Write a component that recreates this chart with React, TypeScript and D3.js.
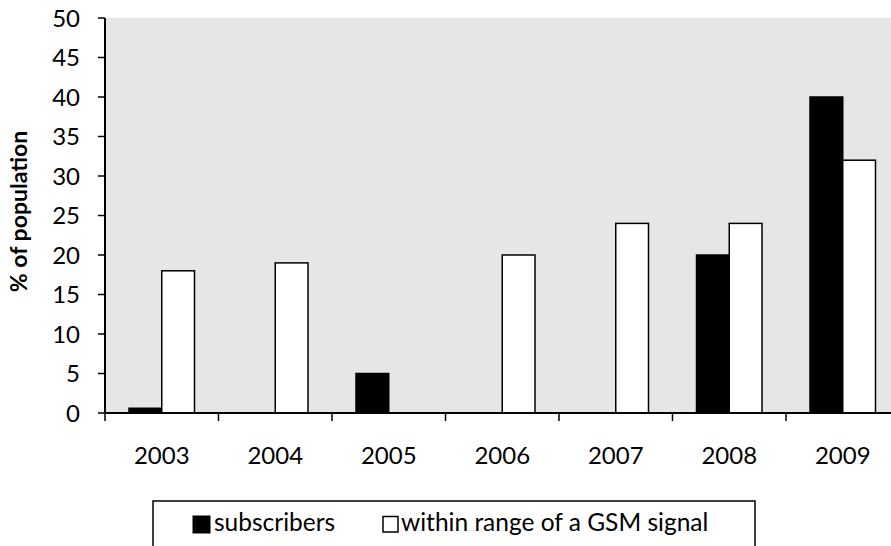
import React from "react";
import * as d3 from "d3";

const years = ["2003", "2004", "2005", "2006", "2007", "2008", "2009"];
const subscribers: (number | null)[] = [0.6, null, 5, null, null, 20, 40];
const gsmRange: (number | null)[] = [18, 19, null, 20, 24, 24, 32];
const yTicks = [0, 5, 10, 15, 20, 25, 30, 35, 40, 45, 50];
const seriesNames = ["subscribers", "within range of a GSM signal"];

const W = 891;
const H = 546;
const FONT = "Lato, 'Open Sans', sans-serif";

export default function App() {
  const left = 105;
  const top = 18;
  const bottom = 413;
  const bandW = 113.5;
  const x = d3.scaleBand<string>().domain(years).range([left, left + bandW * years.length]).padding(0);
  const y = d3.scaleLinear().domain([0, 50]).range([bottom, top]);
  const inner = d3.scaleBand<number>().domain([0, 1]).range([24, x.bandwidth() - 24]).padding(0);

  const series = [subscribers, gsmRange];
  const fills = ["#000000", "#ffffff"];

  return (
    <svg width={W} height={H} style={{ position: "fixed", left: 0, top: 0, display: "block" }} fontFamily={FONT}>
      <rect x={0} y={0} width={W} height={H} fill="#ffffff" />
      <rect x={left} y={top} width={x.range()[1] - left} height={bottom - top} fill="#e6e6e6" />
      {series.map((vals, si) =>
        vals.map((v, i) =>
          v == null ? null : (
            <rect
              key={`${si}-${i}`}
              x={(x(years[i]) as number) + (inner(si) as number)}
              y={y(v)}
              width={inner.bandwidth()}
              height={bottom - y(v)}
              fill={fills[si]}
              stroke="#000"
              strokeWidth={1.5}
            />
          )
        )
      )}
      {/* y axis */}
      <line x1={left} x2={left} y1={top} y2={bottom} stroke="#000" strokeWidth={2} />
      {yTicks.map((t) => (
        <g key={t}>
          <line x1={left - 7} x2={left} y1={y(t)} y2={y(t)} stroke="#000" strokeWidth={1.5} />
          <text x={80} y={y(t)} dy="0.36em" textAnchor="end" fontSize={24} fill="#000">
            {t}
          </text>
        </g>
      ))}
      {/* x axis */}
      <line x1={left} x2={x.range()[1]} y1={bottom} y2={bottom} stroke="#000" strokeWidth={2} />
      {years.map((yr) => (
        <g key={yr}>
          <line
            x1={x(yr) as number}
            x2={x(yr) as number}
            y1={bottom}
            y2={bottom + 8}
            stroke="#000"
            strokeWidth={1.5}
          />
          <text x={(x(yr) as number) + x.bandwidth() / 2} y={464} textAnchor="middle" fontSize={24} fill="#000">
            {yr}
          </text>
        </g>
      ))}
      <line x1={x.range()[1]} x2={x.range()[1]} y1={bottom} y2={bottom + 8} stroke="#000" strokeWidth={1.5} />
      {/* y title */}
      <text
        transform={`translate(27, ${(top + bottom) / 2 - 4}) rotate(-90)`}
        textAnchor="middle"
        fontSize={23}
        fontWeight="bold"
        fill="#000"
      >
        % of population
      </text>
      {/* legend */}
      <rect x={153} y={501} width={602} height={60} fill="#fff" stroke="#000" strokeWidth={1.5} />
      <rect x={193} y={516} width={17} height={17} fill="#000" stroke="#000" strokeWidth={1} />
      <text x={214} y={531} fontSize={24.5} fill="#000">
        {seriesNames[0]}
      </text>
      <rect x={383} y={516.5} width={15} height={15.5} fill="#fff" stroke="#000" strokeWidth={1.5} />
      <text x={401} y={531} fontSize={24.5} fill="#000">
        {seriesNames[1]}
      </text>
    </svg>
  );
}
